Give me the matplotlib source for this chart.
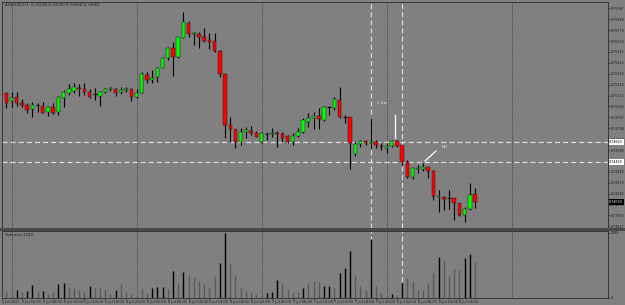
import matplotlib
matplotlib.use("Agg")
import matplotlib.pyplot as plt
from matplotlib.patches import Rectangle
import numpy as np

# ---------------- data (AUDUSD H1, bar 0 = 5 Jul 00:00) ----------------
first_bar = -2
opens = [0.7515, 0.7515, 0.7507, 0.7511, 0.7505, 0.7503, 0.7499, 0.7503, 0.7502, 0.7496,
         0.7501, 0.7496, 0.7510, 0.7515, 0.7517, 0.7520, 0.7519, 0.7516, 0.7514, 0.7512,
         0.7516, 0.7519, 0.7519, 0.7516, 0.75185, 0.7519, 0.7511, 0.7515, 0.7533, 0.7528,
         0.7531, 0.7540, 0.7550, 0.7560, 0.7551, 0.7570, 0.7585, 0.75745, 0.7574, 0.7571,
         0.7568, 0.7567, 0.7557, 0.7534, 0.7483, 0.7479, 0.7466, 0.7476, 0.7477, 0.7475,
         0.7466, 0.7474, 0.7474, 0.7475, 0.7474, 0.7472, 0.7466, 0.7472, 0.7476, 0.7486,
         0.7490, 0.7492, 0.7488, 0.7501, 0.7500, 0.7508, 0.7491, 0.7491, 0.7454, 0.7464,
         0.7467, 0.7465, 0.7466, 0.7462, 0.7460, 0.7462, 0.7467, 0.7463, 0.7446, 0.7431,
         0.7439, 0.7439, 0.7441, 0.7437, 0.74115, 0.7411, 0.7410, 0.7410, 0.7405, 0.7393,
         0.7399, 0.7414]
highs = [0.7516, 0.7516, 0.7516, 0.7516, 0.7509, 0.7505, 0.7506, 0.7505, 0.7506, 0.7502,
         0.7505, 0.7512, 0.7518, 0.7524, 0.7525, 0.7524, 0.7525, 0.7519, 0.7520, 0.7517,
         0.7520, 0.7521, 0.7520, 0.7521, 0.7521, 0.7520, 0.7519, 0.7536, 0.7536, 0.7538,
         0.7541, 0.7551, 0.7561, 0.7566, 0.7571, 0.7596, 0.7587, 0.7576, 0.7576, 0.7580,
         0.7575, 0.7575, 0.7558, 0.7534, 0.7491, 0.7479, 0.7480, 0.7481, 0.7482, 0.7477,
         0.7476, 0.7476, 0.7480, 0.7477, 0.7476, 0.7473, 0.7475, 0.7480, 0.7490, 0.7495,
         0.7496, 0.7500, 0.7502, 0.7502, 0.7511, 0.7521, 0.7493, 0.7491, 0.7467, 0.7468,
         0.7468, 0.7490, 0.7468, 0.7465, 0.7465, 0.7468, 0.7468, 0.7463, 0.7448, 0.7441,
         0.7443, 0.7445, 0.7441, 0.7438, 0.7418, 0.7412, 0.7418, 0.7410, 0.7405, 0.7401,
         0.7425, 0.7420]
lows = [0.7512, 0.7500, 0.7501, 0.7502, 0.7501, 0.7495, 0.7491, 0.7496, 0.7495, 0.7492,
        0.7494, 0.7493, 0.7501, 0.7513, 0.7515, 0.7512, 0.7513, 0.7510, 0.7508, 0.7502,
        0.7515, 0.7517, 0.7512, 0.7514, 0.7516, 0.7507, 0.7510, 0.7515, 0.7525, 0.7525,
        0.7526, 0.7540, 0.7548, 0.7532, 0.7550, 0.7570, 0.7571, 0.7563, 0.7560, 0.7566,
        0.7559, 0.7556, 0.7531, 0.7470, 0.7466, 0.7460, 0.7463, 0.7470, 0.7473, 0.7471,
        0.7465, 0.7468, 0.7471, 0.7461, 0.7466, 0.7465, 0.7463, 0.7471, 0.7475, 0.7481,
        0.7479, 0.7479, 0.7487, 0.7493, 0.7498, 0.7490, 0.7485, 0.7439, 0.7452, 0.7461,
        0.7463, 0.7460, 0.7460, 0.7458, 0.7455, 0.7461, 0.7461, 0.7443, 0.7430, 0.7429,
        0.7435, 0.7437, 0.7430, 0.7408, 0.7396, 0.7398, 0.7399, 0.7388, 0.7392, 0.7386,
        0.7398, 0.7400]
closes = [0.7513, 0.7505, 0.7510, 0.7505, 0.7503, 0.7498, 0.7503, 0.7503, 0.7495, 0.7501,
          0.7495, 0.7511, 0.7516, 0.7519, 0.7521, 0.7519, 0.7516, 0.7511, 0.7514, 0.7516,
          0.7519, 0.7520, 0.7515, 0.7518, 0.7519, 0.7511, 0.7515, 0.7534, 0.7528, 0.7530,
          0.7540, 0.7550, 0.7560, 0.7551, 0.7571, 0.7586, 0.7574, 0.7575, 0.7571, 0.7567,
          0.75665, 0.7557, 0.7534, 0.7483, 0.7479, 0.7466, 0.7476, 0.7478, 0.7475, 0.7471,
          0.7475, 0.7474, 0.7475, 0.7474, 0.7470, 0.7466, 0.7472, 0.7476, 0.7488, 0.7490,
          0.7492, 0.7489, 0.7501, 0.7501, 0.7509, 0.7491, 0.7491, 0.7465, 0.7464, 0.7467,
          0.7465, 0.7466, 0.7463, 0.7461, 0.7462, 0.7467, 0.7462, 0.7446, 0.7431, 0.7440,
          0.7440, 0.7441, 0.7437, 0.7412, 0.7412, 0.7409, 0.7410, 0.7405, 0.7393, 0.7399,
          0.7413, 0.7406]
volumes = [155, 240, 120, 265, 214, 251, 461, 251, 240, 129,
           214, 498, 546, 398, 339, 277, 192, 424, 361, 339,
           277, 129, 265, 498, 203, 129, 70, 302, 177, 339,
           376, 376, 313, 988, 524, 951, 804, 767, 619, 487,
           398, 793, 1283, 2389, 1283, 830, 376, 251, 214, 118,
           66, 177, 192, 645, 487, 302, 214, 192, 339, 487,
           608, 560, 424, 435, 361, 892, 1077, 1715, 793, 424,
           277, 2146, 435, 155, 60, 129, 92, 524, 719, 583,
           277, 277, 524, 914, 1482, 1383, 804, 1051, 1014, 1445,
           1593, 1320]
vol_dark = [0, 0, 0, 1, 0, 1, 1, 0, 1, 0,
            0, 1, 1, 0, 0, 0, 0, 1, 0, 0,
            0, 0, 1, 0, 0, 0, 0, 0, 0, 1,
            1, 1, 0, 1, 0, 1, 0, 0, 0, 0,
            0, 0, 1, 1, 0, 0, 0, 0, 0, 0,
            0, 1, 1, 1, 0, 0, 0, 0, 1, 0,
            0, 0, 1, 1, 0, 1, 1, 1, 0, 0,
            0, 1, 0, 0, 0, 1, 0, 1, 0, 0,
            0, 0, 0, 0, 1, 0, 0, 0, 0, 1,
            1, 0]
day_starts = [0, 24, 48, 72, 96]
day_names = ["5 Jul", "6 Jul", "7 Jul", "8 Jul"]
label_hours = [2, 6, 10, 14, 18, 22]
first_label = "2 Jul 2021"
hlines = [0.7466, 0.7446]
vlines_bars = [69, 75]
symbol = "AUDUSD,H1"

# ---------------- figure ----------------
W, H = 625, 305
fig = plt.figure(figsize=(W / 100, H / 100), dpi=100)
bg = "#808080"
fig.patch.set_facecolor(bg)

x0_px, step_px = 11.5, 125 / 24
left_px, right_px = 2, 608
xl = ((left_px - x0_px) / step_px, (right_px - x0_px) / step_px)

ax = fig.add_axes([left_px / W, 1 - 228 / H, (right_px - left_px) / W, 226 / H])
axv = fig.add_axes([left_px / W, 1 - 297.5 / H, (right_px - left_px) / W, 66.5 / H])
for a in (ax, axv):
    a.set_facecolor(bg)
    a.set_xlim(*xl)
    for s in a.spines.values():
        s.set_color("#2a2a2a")
        s.set_linewidth(0.6)

ax.set_ylim(0.7380, 0.7606)
vmax = 2389 * 66.5 / 64.8
axv.set_ylim(0, vmax)

idx = np.arange(first_bar, first_bar + len(opens))
bw = 0.66
for i, o, h, l, c in zip(idx, opens, highs, lows, closes):
    ax.vlines(i, l, h, color="black", lw=0.8, zorder=3)
    if abs(o - c) < 0.00003:
        ax.hlines(o, i - bw / 2, i + bw / 2, color="black", lw=0.8, zorder=4)
    else:
        col = "#00ff00" if c > o else "#ff0000"
        ax.add_patch(Rectangle((i - bw / 2, min(o, c)), bw, abs(c - o),
                               facecolor=col, edgecolor="#202020", lw=0.35, zorder=4))

# volume
for i, v, d in zip(idx, volumes, vol_dark):
    axv.vlines(i, 0, v, color="black" if d else "#5a5a5a", lw=1.0, zorder=3)

# day separators and vertical lines
for a in (ax, axv):
    for d in day_starts:
        a.axvline(d, color="#3a3a3a", lw=0.6, ls=(0, (1, 1.2)), zorder=1)
    for b in vlines_bars:
        a.axvline(b, color="#d8d8d8", lw=0.9, ls=(0, (4, 2.5)), zorder=2)

for hv in hlines:
    ax.axhline(hv, color="#dcdcdc", lw=0.9, ls=(0, (4, 2.5)), zorder=2)

# annotations
ax.text(70.2, 0.7505, "2 bar", fontsize=3.0, color="#e6e6e6", ha="left", va="center")
ax.plot([73.7, 73.7], [0.7470, 0.7493], color="white", lw=0.9, zorder=5)
ax.text(82.5, 0.7461, "ND", fontsize=3.0, color="#e6e6e6", ha="left", va="center")
ax.plot([79.4, 81.5], [0.7447, 0.7457], color="white", lw=0.9, zorder=5)

# price axis
ticks = [0.75997 - 0.00109 * k for k in range(21)]
ax.yaxis.tick_right()
ax.set_yticks(ticks)
ax.set_yticklabels([f"{t:.5f}" for t in ticks])
ax.tick_params(axis="y", length=1.2, width=0.4, pad=0.8, labelsize=2.3, colors="#1a1a1a")
ax.set_xticks([])

# price boxes
for hv in hlines:
    ax.text(1.002, hv, f"{hv:.5f}", transform=ax.get_yaxis_transform(), fontsize=2.3,
            color="black", ha="left", va="center", zorder=10,
            bbox=dict(boxstyle="square,pad=0.2", fc="white", ec="none"))
ax.text(1.002, closes[-1], f"{closes[-1]:.5f}", transform=ax.get_yaxis_transform(),
        fontsize=2.3, color="white", ha="left", va="center", zorder=10,
        bbox=dict(boxstyle="square,pad=0.2", fc="black", ec="none"))

# volume axis
axv.yaxis.tick_right()
axv.set_yticks([0, 2389])
axv.set_yticklabels(["0", "2389"])
axv.tick_params(axis="y", length=1.2, width=0.4, pad=0.8, labelsize=2.3, colors="#1a1a1a")

# time axis
tpos = [first_bar + 0.2]
tlab = [first_label]
for dname, ds in zip(day_names, day_starts):
    for hh in label_hours:
        b = ds + hh
        if b <= idx[-1]:
            tpos.append(b)
            tlab.append(f"{dname} {hh:02d}:00")
axv.set_xticks(tpos)
axv.set_xticklabels(tlab, ha="left")
axv.tick_params(axis="x", length=1.2, width=0.4, pad=0.5, labelsize=2.5, colors="#1a1a1a")

# separator band
fig.add_artist(Rectangle((0, 1 - 231 / H), 1, 3 / H, transform=fig.transFigure,
                         facecolor="#4a4a4a", edgecolor="none"))

# titles
fig.text(5 / W, 1 - 5 / H, f"{symbol}  {opens[-1]:.5f} {highs[-1]:.5f} {lows[-1]:.5f} {closes[-1]:.5f}",
         fontsize=2.8, color="#1a1a1a", ha="left", va="center")
fig.text(5 / W, 1 - 234.5 / H, f"Volumes {volumes[-1]}", fontsize=2.8, color="#1a1a1a",
         ha="left", va="center")

fig.savefig("out.png", dpi=100, facecolor=bg)
